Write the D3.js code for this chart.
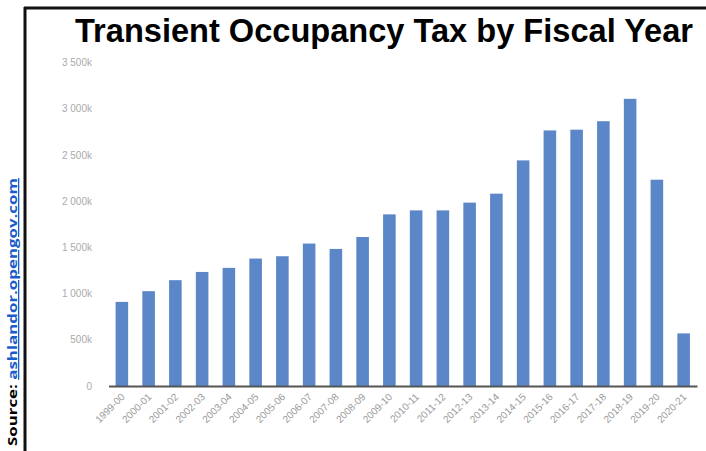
<!DOCTYPE html>
<html>
<head>
<meta charset="utf-8">
<script src="https://cdn.jsdelivr.net/npm/d3@7"></script>
<style>
  html, body { margin: 0; padding: 0; background: #fff; }
  svg { display: block; }
</style>
</head>
<body>
<svg id="chart" width="706" height="451"></svg>
<script>
const categories = ["1999-00","2000-01","2001-02","2002-03","2003-04","2004-05","2005-06","2006-07","2007-08","2008-09","2009-10","2010-11","2011-12","2012-13","2013-14","2014-15","2015-16","2016-17","2017-18","2018-19","2019-20","2020-21"];
const taxValues = [910,1026,1145,1234,1278,1379,1404,1541,1483,1612,1857,1900,1900,1984,2081,2441,2765,2773,2865,3107,2232,569];
const tickValues = [0,500,1000,1500,2000,2500,3000,3500];
const tickLabels = ["0","500k","1 000k","1 500k","2 000k","2 500k","3 000k","3 500k"];
const titleText = "Transient Occupancy Tax by Fiscal Year";
const sourceLabel = "Source: ";
const sourceLink = "ashlandor.opengov.com";

const svg = d3.select("#chart");

const x = d3.scaleBand().domain(categories).range([108.5, 697]).paddingInner(0.53).paddingOuter(0.265);
const y = d3.scaleLinear().domain([0, 3500]).range([386, 62.5]);

// frame
svg.append("line").attr("x1", 25).attr("x2", 25).attr("y1", 7).attr("y2", 451)
  .attr("stroke", "#111").attr("stroke-width", 3);
svg.append("line").attr("x1", 24).attr("x2", 706).attr("y1", 8).attr("y2", 8)
  .attr("stroke", "#111").attr("stroke-width", 3);

// title
svg.append("text").attr("x", 384).attr("y", 42).attr("text-anchor", "middle")
  .attr("font-family", "'Liberation Sans Narrow', 'Liberation Sans', sans-serif")
  .attr("font-weight", "bold").attr("font-size", 33).attr("fill", "#000")
  .attr("textLength", 618).attr("lengthAdjust", "spacingAndGlyphs")
  .text(titleText);

// y axis labels
const yAxis = d3.axisLeft(y).tickValues(tickValues)
  .tickFormat((d, i) => tickLabels[i]).tickSize(0).tickPadding(0);
const yg = svg.append("g").attr("transform", "translate(92,0)").call(yAxis);
yg.select(".domain").remove();
yg.selectAll("text").attr("font-family", "'Liberation Sans', sans-serif")
  .attr("font-size", 10).attr("fill", "#aaa");

// bars
svg.append("g").selectAll("rect").data(categories).join("rect")
  .attr("x", d => x(d))
  .attr("width", x.bandwidth())
  .attr("y", (d, i) => y(taxValues[i]))
  .attr("height", (d, i) => y(0) - y(taxValues[i]))
  .attr("fill", "#5b87c8");

// x axis
const xAxis = d3.axisBottom(x).tickSize(0).tickPadding(0);
const xg = svg.append("g").attr("transform", "translate(0,386)").call(xAxis);
xg.select(".domain").attr("stroke", "#555").attr("stroke-width", 2);
xg.selectAll("text")
  .attr("font-family", "'Liberation Sans', sans-serif")
  .attr("font-size", 10).attr("fill", "#999")
  .attr("text-anchor", "end")
  .attr("dy", "0.35em")
  .attr("transform", "translate(1,9) rotate(-45)");

// source
const src = svg.append("text")
  .attr("transform", "translate(17,446) rotate(-90)")
  .attr("font-family", "'Open Sans', sans-serif")
  .attr("font-weight", "bold").attr("font-size", 13)
  .attr("textLength", 268).attr("lengthAdjust", "spacingAndGlyphs");
src.append("tspan").attr("fill", "#000").text(sourceLabel);
src.append("tspan").attr("fill", "#1a5dc8").attr("text-decoration", "underline").text(sourceLink);
</script>
</body>
</html>
